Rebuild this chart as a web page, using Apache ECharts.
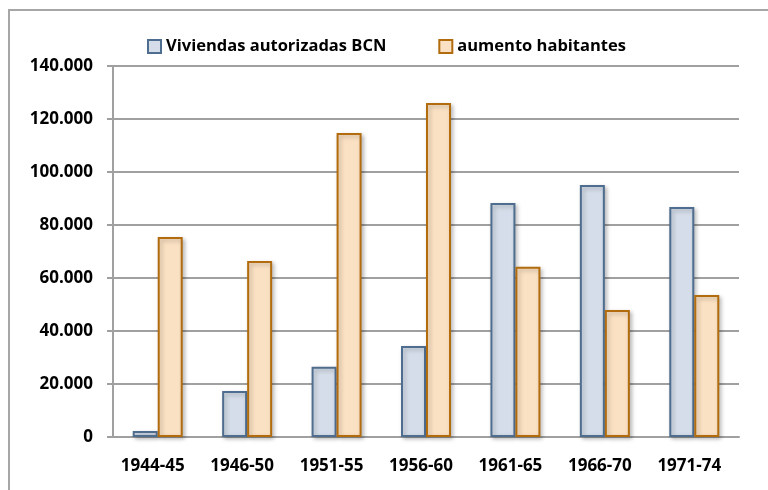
<!DOCTYPE html>
<html>
<head>
<meta charset="utf-8">
<script src="https://cdn.jsdelivr.net/npm/echarts@6/dist/echarts.min.js"></script>
<style>
  html, body { margin: 0; padding: 0; background: #fff; }
  #chart { width: 768px; height: 490px; }
</style>
</head>
<body>
<div id="chart"></div>
<script>
var periodos = ['1944-45', '1946-50', '1951-55', '1956-60', '1961-65', '1966-70', '1971-74'];
var viviendas = [2300, 17400, 26500, 34300, 88300, 95100, 86800];
var habitantes = [75500, 66400, 114700, 126000, 64200, 47900, 53600];

var gris = '#a0a0a0';
var fuente = '"Open Sans", "Liberation Sans", sans-serif';

function miles(v) {
	return String(v).replace(/\B(?=(\d{3})+(?!\d))/g, '.');
}

var myChart = echarts.init(document.getElementById('chart'));

var sombra = {
	shadowColor: 'rgba(0,0,0,0.25)',
	shadowBlur: 4,
	shadowOffsetX: 2,
	shadowOffsetY: 2
};

var option = {
	animation: false,
	graphic: [{
		type: 'polyline',
		shape: { points: [[768, 10], [9, 10], [9, 490]] },
		style: { stroke: '#a6a6a6', lineWidth: 2, fill: null }
	}],
	legend: {
		left: 142,
		top: 33,
		itemWidth: 13,
		itemHeight: 13,
		itemGap: 52,
		icon: 'rect',
		textStyle: { fontFamily: fuente, fontWeight: 'bold', fontSize: 16.5, color: '#000' }
	},
	grid: { left: 113, right: 29, top: 66, bottom: 53 },
	xAxis: {
		type: 'category',
		data: periodos,
		axisLine: { lineStyle: { color: gris, width: 2 } },
		axisTick: { length: 6, lineStyle: { color: gris, width: 2 } },
		axisLabel: {
			margin: 21, padding: [0, 10, 0, 0],
			fontFamily: fuente, fontWeight: 'bold', fontSize: 17, color: '#000'
		}
	},
	yAxis: {
		type: 'value',
		min: 0,
		max: 140000,
		interval: 20000,
		axisLine: { show: true, lineStyle: { color: gris, width: 2 } },
		axisTick: { show: true, length: 6, lineStyle: { color: gris, width: 2 } },
		splitLine: { lineStyle: { color: gris, width: 2 } },
		axisLabel: {
			margin: 20,
			fontFamily: fuente, fontWeight: 'bold', fontSize: 17, color: '#000',
			formatter: miles
		}
	},
	series: [{
		name: 'Viviendas autorizadas BCN',
		type: 'bar',
		data: viviendas,
		barWidth: 25,
		barGap: '0%',
		itemStyle: Object.assign({ color: '#d4dde9', borderColor: '#4f6d8f', borderWidth: 2 }, sombra)
	}, {
		name: 'aumento habitantes',
		type: 'bar',
		data: habitantes,
		barWidth: 25,
		barGap: '0%',
		itemStyle: Object.assign({ color: '#fbe1c3', borderColor: '#b26c0e', borderWidth: 2 }, sombra)
	}]
};

myChart.setOption(option);
</script>
</body>
</html>
